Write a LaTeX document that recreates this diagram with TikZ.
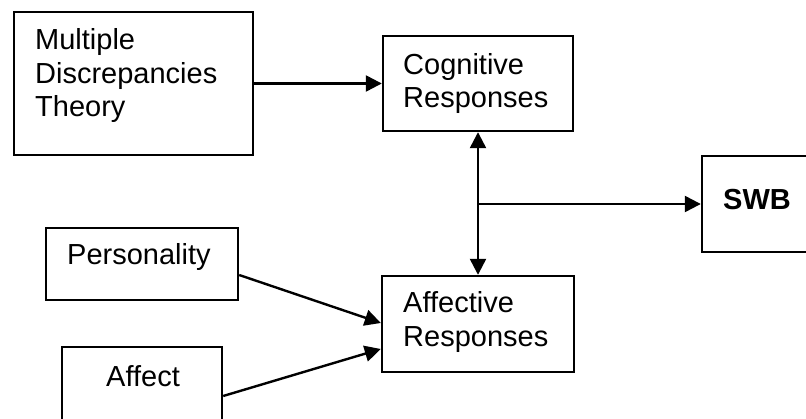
\documentclass[tikz,border=0pt]{standalone}
\usepackage{fontspec}
\setmainfont{Liberation Sans}
\usetikzlibrary{arrows.meta,calc}
\tikzset{
  box/.style={draw, line width=2.4pt, rectangle, inner sep=0pt},
  txt/.style={anchor=base west, inner sep=0pt, font=\fontsize{29}{33}\selectfont},
  tip/.style={Triangle[length=16pt,width=16pt]},
  link/.style={line width=2.4pt, -{Triangle[length=16pt,width=16pt]}},
  both/.style={line width=2.4pt, {Triangle[length=16pt,width=16pt]}-{Triangle[length=16pt,width=16pt]}}
}
\begin{document}
\begin{tikzpicture}[x=1pt,y=-1pt]
  \useasboundingbox (0,0) rectangle (806,419);
  \clip (0,0) rectangle (806,419);
  \fill[white] (0,0) rectangle (806,419);

  % boxes
  \node[box, minimum width=239pt, minimum height=143pt] (mdt)  at (133.5,83.5) {};
  \node[box, minimum width=190pt, minimum height=95pt]  (cog)  at (478,83.5) {};
  \node[box, minimum width=192pt, minimum height=96pt]  (aff)  at (478,324) {};
  \node[box, minimum width=192pt, minimum height=72pt]  (pers) at (142,264) {};
  \node[box, minimum width=160pt, minimum height=90pt]  (afct) at (142,392) {};
  \node[box, minimum width=130pt, minimum height=96pt]  (swb)  at (767,204) {};

  % labels
  \node[txt] (mdtA) at (35,50)    {Multiple};
  \node[txt] (mdtB) at (35,83.5)  {Discrepancies};
  \node[txt] (mdtC) at (35,117)   {Theory};
  \node[txt] (cogA) at (403,75)   {Cognitive};
  \node[txt] (cogB) at (403,108)  {Responses};
  \node[txt] (affA) at (403,313)  {Affective};
  \node[txt] (affB) at (403,347)  {Responses};
  \node[txt] (persT) at (67,265)  {Personality};
  \node[txt] (afctT) at (106,387) {Affect};
  \node[txt, font=\fontsize{29}{33}\selectfont\bfseries] (swbT) at (723,210) {SWB};

  % connectors
  \draw[link] (mdt.east) -- (cog.west);
  \draw[both] (cog.south) -- (aff.north);
  \coordinate (junc) at (cog.south |- swb.west);
  \draw[link] (junc) -- (swb.west);
  \draw[link] ($(pers.east)+(0,11)$) -- ($(aff.west)+(0,-1)$);
  \draw[link] ($(afct.east)+(0,4)$) -- ($(aff.west)+(0,25)$);
\end{tikzpicture}
\end{document}
